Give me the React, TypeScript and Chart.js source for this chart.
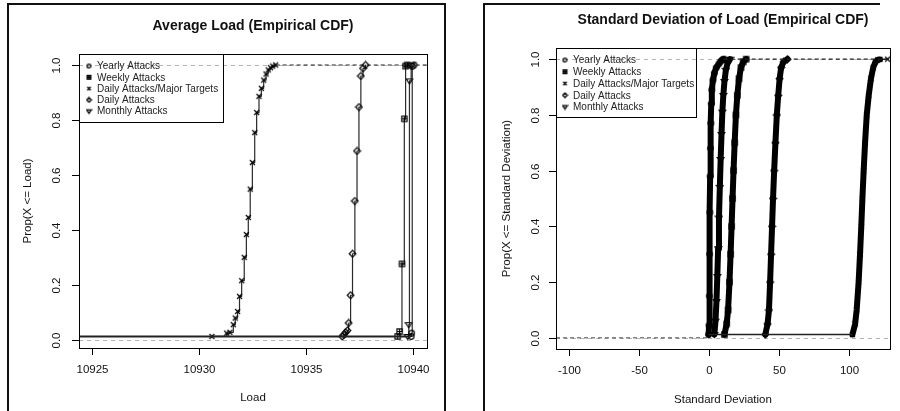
import React, { useEffect, useRef } from "react";
import { Chart, registerables } from "chart.js";
Chart.register(...registerables);

// ---------- shared ----------
const SERIES_NAMES = [
  "Yearly Attacks",
  "Weekly Attacks",
  "Daily Attacks/Major Targets",
  "Daily Attacks",
  "Monthly Attacks",
];
const SERIES_MARKERS = ["circle", "boxplus", "cross", "diamond", "triangleDown"];
const Y_TICKS = [0, 0.2, 0.4, 0.6, 0.8, 1.0];

// ---------- left panel: average load ----------
const AVG_X_TICKS = [10925, 10930, 10935, 10940];
const AVG_YEARLY_X = [10939.9, 10939.92, 10939.95, 10940.03];
const AVG_YEARLY_Y = [0.012, 0.024, 0.995, 1.0];
const AVG_WEEKLY_X = [10939.27, 10939.36, 10939.47, 10939.58, 10939.64, 10939.72];
const AVG_WEEKLY_Y = [0.012, 0.03, 0.276, 0.804, 0.996, 1.0];
const AVG_MAJOR_X = [
  10930.59, 10931.28, 10931.43, 10931.59, 10931.68, 10931.79, 10931.88, 10931.98,
  10932.1, 10932.2, 10932.29, 10932.38, 10932.48, 10932.59, 10932.68, 10932.79,
  10932.9, 10933.01, 10933.12, 10933.22, 10933.33, 10933.43, 10933.57,
];
const AVG_MAJOR_Y = [
  0.012, 0.024, 0.027, 0.055, 0.079, 0.103, 0.158, 0.215, 0.3, 0.383, 0.445, 0.548,
  0.645, 0.754, 0.827, 0.886, 0.915, 0.945, 0.967, 0.982, 0.99, 0.996, 1.0,
];
const AVG_DAILY_X = [
  10936.68, 10936.76, 10936.84, 10936.92, 10936.98, 10937.07, 10937.16, 10937.27,
  10937.37, 10937.46, 10937.55, 10937.65, 10937.77,
];
const AVG_DAILY_Y = [
  0.012, 0.018, 0.027, 0.034, 0.061, 0.162, 0.313, 0.505, 0.687, 0.847, 0.96, 0.988, 1.0,
];
const AVG_MONTHLY_X = [10939.74, 10939.79, 10939.82, 10939.9];
const AVG_MONTHLY_Y = [0.012, 0.055, 0.942, 1.0];

// ---------- right panel: standard deviation ----------
const SD_X_TICKS = [-100, -50, 0, 50, 100];
const SD_YEARLY_X = [-0.3, 0.0, 0.2, 0.4, 0.6, 0.8, 1.0, 1.3, 1.6, 2.0, 2.8, 3.8, 5.2, 7.0, 8.5, 9.6, 10.5];
const SD_YEARLY_Y = [0.012, 0.045, 0.15, 0.3, 0.45, 0.58, 0.68, 0.77, 0.84, 0.89, 0.925, 0.95, 0.97, 0.983, 0.993, 0.998, 1.0];
const SD_MONTHLY_X = [3.8, 4.6, 5.3, 5.9, 6.5, 7.1, 7.7, 8.3, 8.9, 9.5, 10.2, 11.0, 12.0, 13.2, 15.0];
const SD_MONTHLY_Y = [0.012, 0.06, 0.13, 0.22, 0.32, 0.43, 0.54, 0.64, 0.73, 0.81, 0.87, 0.92, 0.96, 0.985, 1.0];
const SD_WEEKLY_X = [11.0, 12.6, 13.6, 14.6, 15.4, 16.1, 16.8, 17.5, 18.3, 19.2, 20.2, 21.4, 22.8, 24.4, 26.5];
const SD_WEEKLY_Y = [0.012, 0.05, 0.1, 0.2, 0.3, 0.4, 0.5, 0.6, 0.7, 0.8, 0.87, 0.93, 0.97, 0.99, 1.0];
const SD_DAILY_X = [40.2, 41.8, 42.8, 43.6, 44.3, 45.0, 45.7, 46.5, 47.4, 48.4, 49.4, 50.4, 51.5, 53.2, 56.0];
const SD_DAILY_Y = [0.012, 0.05, 0.1, 0.2, 0.3, 0.4, 0.5, 0.6, 0.7, 0.8, 0.87, 0.93, 0.97, 0.99, 1.0];
const SD_MAJOR_X = [102.4, 104.3, 105.4, 106.8, 107.8, 108.7, 109.5, 110.4, 111.4, 112.6, 114.0, 115.6, 117.2, 118.8, 120.3, 122.0, 127.5];
const SD_MAJOR_Y = [0.012, 0.05, 0.1, 0.2, 0.3, 0.4, 0.5, 0.6, 0.7, 0.8, 0.87, 0.93, 0.97, 0.99, 0.997, 0.999, 1.0];

const FONT = '"Liberation Sans", Arial, Helvetica, sans-serif';

type Series = { name: string; marker: string; xs: number[]; ys: number[] };

function markerCanvas(kind: string, size: number, lw: number) {
  const c = document.createElement("canvas");
  c.width = size;
  c.height = size;
  const g = c.getContext("2d")!;
  g.strokeStyle = "#000";
  g.lineWidth = lw;
  const m = size / 2;
  const r = size / 2 - 1.2;
  g.beginPath();
  if (kind === "circle") {
    g.arc(m, m, r * 0.85, 0, Math.PI * 2);
  } else if (kind === "boxplus") {
    const h = r * 0.8;
    g.rect(m - h, m - h, 2 * h, 2 * h);
    g.moveTo(m, m - h);
    g.lineTo(m, m + h);
    g.moveTo(m - h, m);
    g.lineTo(m + h, m);
  } else if (kind === "cross") {
    const h = r * 0.75;
    g.moveTo(m - h, m - h);
    g.lineTo(m + h, m + h);
    g.moveTo(m + h, m - h);
    g.lineTo(m - h, m + h);
  } else if (kind === "diamond") {
    g.moveTo(m, m - r);
    g.lineTo(m + r, m);
    g.lineTo(m, m + r);
    g.lineTo(m - r, m);
    g.closePath();
  } else if (kind === "triangleDown") {
    g.moveTo(m - r, m - r * 0.6);
    g.lineTo(m + r, m - r * 0.6);
    g.lineTo(m, m + r * 0.9);
    g.closePath();
  }
  g.stroke();
  return c;
}

type PanelCfg = {
  title: string;
  xLabel: string;
  yLabel: string;
  xTicks: number[];
  xMin: number;
  xMax: number;
  yMin: number;
  yMax: number;
  box: { left: number; top: number; right: number; bottom: number };
  titleY: number;
  xLabelY: number;
  yLabelX: number;
  xTickLabelY: number;
  yTickLabelX: number;
  legend: { w: number; h: number; first: number; step: number; symX: number; textX: number };
  frame: number[][];
  series: Series[];
  lineWidth: number;
  lineColor: string;
  stepped: boolean;
  bottomFromEdge: boolean;
};

function buildDatasets(cfg: PanelCfg) {
  const firstXs = cfg.series.map((s) => s.xs[0]);
  const lastXs = cfg.series.map((s) => s.xs[s.xs.length - 1]);
  const baseY = cfg.series[0].ys[0];
  const minFirst = Math.min(...firstXs);
  const maxFirst = Math.max(...firstXs);
  const minLast = Math.min(...lastXs);
  const ds: any[] = [];
  ds.push({
    data: [
      { x: cfg.bottomFromEdge ? cfg.xMin : minFirst, y: baseY },
      { x: maxFirst, y: baseY },
    ],
    borderColor: "#222",
    borderWidth: cfg.bottomFromEdge ? 2 : 1.5,
    pointRadius: 0,
  });
  if (!cfg.bottomFromEdge) {
    ds.push({
      data: [
        { x: cfg.xMin, y: 0 },
        { x: minFirst, y: 0 },
      ],
      borderColor: "#444",
      borderWidth: 1,
      borderDash: [4, 3],
      pointRadius: 0,
    });
  }
  ds.push({
    data: [
      { x: minLast, y: 1 },
      { x: cfg.xMax, y: 1 },
    ],
    borderColor: "#222",
    borderWidth: 1.2,
    borderDash: [4, 3],
    pointRadius: 0,
  });
  cfg.series.forEach((s) => {
    ds.push({
      label: s.name,
      data: s.xs.map((x, i) => ({ x, y: s.ys[i] })),
      stepped: cfg.stepped ? "before" : false,
      tension: 0,
      borderColor: cfg.lineColor,
      borderWidth: cfg.lineWidth,
      borderJoinStyle: "round",
      borderCapStyle: "round",
      segment: {
        borderWidth: (c: any) =>
          c.p0.parsed.y >= 0.999 && c.p1.parsed.y >= 0.999 ? 1.2 : cfg.lineWidth,
      },
      pointStyle: markerCanvas(s.marker, 9, 1.2),
      pointRadius: 3,
    });
  });
  return ds;
}

function panelPlugin(cfg: PanelCfg) {
  return {
    id: "panelDecor",
    beforeDatasetsDraw(chart: any) {
      const { ctx, chartArea: a, scales } = chart;
      ctx.save();
      ctx.strokeStyle = "#b3b3b3";
      ctx.lineWidth = 1;
      ctx.setLineDash([4, 4]);
      [0, 1].forEach((v) => {
        const py = Math.round(scales.y.getPixelForValue(v)) + 0.5;
        ctx.beginPath();
        ctx.moveTo(a.left, py);
        ctx.lineTo(a.right, py);
        ctx.stroke();
      });
      ctx.restore();
    },
    afterDraw(chart: any) {
      const { ctx, chartArea: a, scales } = chart;
      const xs = scales.x;
      const ys = scales.y;
      ctx.save();
      ctx.setLineDash([]);
      // frame
      ctx.strokeStyle = "#111";
      ctx.lineWidth = 2;
      ctx.beginPath();
      cfg.frame.forEach((p, i) => (i === 0 ? ctx.moveTo(p[0], p[1]) : ctx.lineTo(p[0], p[1])));
      ctx.stroke();
      // plot box
      ctx.lineWidth = 1;
      ctx.strokeStyle = "#000";
      ctx.strokeRect(a.left + 0.5, a.top + 0.5, a.right - a.left, a.bottom - a.top);
      ctx.fillStyle = "#111";
      // x axis
      const xp = cfg.xTicks.map((v) => Math.round(xs.getPixelForValue(v)) + 0.5);
      ctx.beginPath();
      ctx.moveTo(xp[0], a.bottom + 0.5);
      ctx.lineTo(xp[xp.length - 1], a.bottom + 0.5);
      xp.forEach((px) => {
        ctx.moveTo(px, a.bottom);
        ctx.lineTo(px, a.bottom + 7);
      });
      ctx.stroke();
      ctx.font = `11.5px ${FONT}`;
      ctx.textAlign = "center";
      ctx.textBaseline = "middle";
      cfg.xTicks.forEach((v, i) => ctx.fillText(String(v), xp[i], cfg.xTickLabelY));
      // y axis
      const yp = Y_TICKS.map((v) => Math.round(ys.getPixelForValue(v)) + 0.5);
      ctx.beginPath();
      ctx.moveTo(a.left + 0.5, yp[0]);
      ctx.lineTo(a.left + 0.5, yp[yp.length - 1]);
      yp.forEach((py) => {
        ctx.moveTo(a.left, py);
        ctx.lineTo(a.left - 7, py);
      });
      ctx.stroke();
      Y_TICKS.forEach((v, i) => {
        ctx.save();
        ctx.translate(cfg.yTickLabelX, yp[i]);
        ctx.rotate(-Math.PI / 2);
        ctx.fillText(v.toFixed(1), 0, 0);
        ctx.restore();
      });
      // axis titles
      ctx.font = `11.5px ${FONT}`;
      ctx.fillText(cfg.xLabel, (a.left + a.right) / 2, cfg.xLabelY);
      ctx.save();
      ctx.translate(cfg.yLabelX, (a.top + a.bottom) / 2);
      ctx.rotate(-Math.PI / 2);
      ctx.fillText(cfg.yLabel, 0, 0);
      ctx.restore();
      // title
      ctx.font = `bold 14px ${FONT}`;
      ctx.fillText(cfg.title, (a.left + a.right) / 2, cfg.titleY);
      // legend
      const L = cfg.legend;
      ctx.strokeStyle = "#000";
      ctx.lineWidth = 1;
      ctx.strokeRect(a.left + 0.5, a.top + 0.5, L.w, L.h);
      ctx.font = `10px ${FONT}`;
      ctx.textAlign = "left";
      ctx.fillStyle = "#222";
      cfg.series.forEach((s, i) => {
        const y = a.top + L.first + i * L.step;
        const m = markerCanvas(s.marker, 7, 1.3);
        ctx.drawImage(m, a.left + L.symX - 3.5, y - 3.5);
        ctx.fillText(s.name, a.left + L.textX, y + 0.5);
      });
      ctx.restore();
    },
  };
}

const LEFT_SERIES: Series[] = [
  { name: SERIES_NAMES[0], marker: SERIES_MARKERS[0], xs: AVG_YEARLY_X, ys: AVG_YEARLY_Y },
  { name: SERIES_NAMES[1], marker: SERIES_MARKERS[1], xs: AVG_WEEKLY_X, ys: AVG_WEEKLY_Y },
  { name: SERIES_NAMES[2], marker: SERIES_MARKERS[2], xs: AVG_MAJOR_X, ys: AVG_MAJOR_Y },
  { name: SERIES_NAMES[3], marker: SERIES_MARKERS[3], xs: AVG_DAILY_X, ys: AVG_DAILY_Y },
  { name: SERIES_NAMES[4], marker: SERIES_MARKERS[4], xs: AVG_MONTHLY_X, ys: AVG_MONTHLY_Y },
];
const RIGHT_SERIES: Series[] = [
  { name: SERIES_NAMES[0], marker: SERIES_MARKERS[0], xs: SD_YEARLY_X, ys: SD_YEARLY_Y },
  { name: SERIES_NAMES[1], marker: SERIES_MARKERS[1], xs: SD_WEEKLY_X, ys: SD_WEEKLY_Y },
  { name: SERIES_NAMES[2], marker: SERIES_MARKERS[2], xs: SD_MAJOR_X, ys: SD_MAJOR_Y },
  { name: SERIES_NAMES[3], marker: SERIES_MARKERS[3], xs: SD_DAILY_X, ys: SD_DAILY_Y },
  { name: SERIES_NAMES[4], marker: SERIES_MARKERS[4], xs: SD_MONTHLY_X, ys: SD_MONTHLY_Y },
];

const LEFT_CFG: PanelCfg = {
  title: "Average Load (Empirical CDF)",
  xLabel: "Load",
  yLabel: "Prop(X <= Load)",
  xTicks: AVG_X_TICKS,
  xMin: 10924.38,
  xMax: 10940.64,
  yMin: -0.03,
  yMax: 1.04,
  box: { left: 79, top: 54, right: 427, bottom: 348 },
  titleY: 26,
  xLabelY: 398,
  yLabelX: 28,
  xTickLabelY: 370,
  yTickLabelX: 57,
  legend: { w: 144, h: 68, first: 12, step: 11.3, symX: 10, textX: 18 },
  frame: [[8, 411], [8, 4], [445, 4], [445, 411]],
  series: LEFT_SERIES,
  lineWidth: 1.2,
  lineColor: "#2a2a2a",
  stepped: true,
  bottomFromEdge: true,
};

const RIGHT_CFG: PanelCfg = {
  title: "Standard Deviation of Load (Empirical CDF)",
  xLabel: "Standard Deviation",
  yLabel: "Prop(X <= Standard Deviation)",
  xTicks: SD_X_TICKS,
  xMin: -109.25,
  xMax: 129.2,
  yMin: -0.04,
  yMax: 1.04,
  box: { left: 106, top: 48, right: 441, bottom: 349 },
  titleY: 20,
  xLabelY: 400,
  yLabelX: 57,
  xTickLabelY: 371,
  yTickLabelX: 86,
  legend: { w: 140, h: 69, first: 12, step: 11.75, symX: 9, textX: 17 },
  frame: [[34, 411], [34, 4], [430, 4]],
  series: RIGHT_SERIES,
  lineWidth: 6,
  lineColor: "#000",
  stepped: false,
  bottomFromEdge: false,
};

function Panel({ cfg, left }: { cfg: PanelCfg; left: number }) {
  const ref = useRef<HTMLCanvasElement>(null);
  useEffect(() => {
    const chart = new Chart(ref.current!, {
      type: "line",
      data: { datasets: buildDatasets(cfg) },
      options: {
        responsive: false,
        maintainAspectRatio: false,
        animation: false,
        events: [],
        layout: {
          padding: {
            left: cfg.box.left,
            top: cfg.box.top,
            right: 450 - cfg.box.right,
            bottom: 411 - cfg.box.bottom,
          },
        },
        scales: {
          x: { type: "linear", display: false, min: cfg.xMin, max: cfg.xMax },
          y: { type: "linear", display: false, min: cfg.yMin, max: cfg.yMax },
        },
        plugins: {
          legend: { display: false },
          title: { display: false },
          tooltip: { enabled: false },
        },
      } as any,
      plugins: [panelPlugin(cfg) as any],
    });
    return () => chart.destroy();
  }, [cfg]);
  return (
    <canvas
      ref={ref}
      width={450}
      height={411}
      style={{ position: "absolute", left, top: 0, width: 450, height: 411 }}
    />
  );
}

export default function App() {
  useEffect(() => {
    document.body.style.margin = "0";
    document.body.style.background = "#fff";
  }, []);
  return (
    <div style={{ position: "relative", width: 900, height: 411, background: "#fff", overflow: "hidden" }}>
      <Panel cfg={LEFT_CFG} left={0} />
      <Panel cfg={RIGHT_CFG} left={450} />
    </div>
  );
}
